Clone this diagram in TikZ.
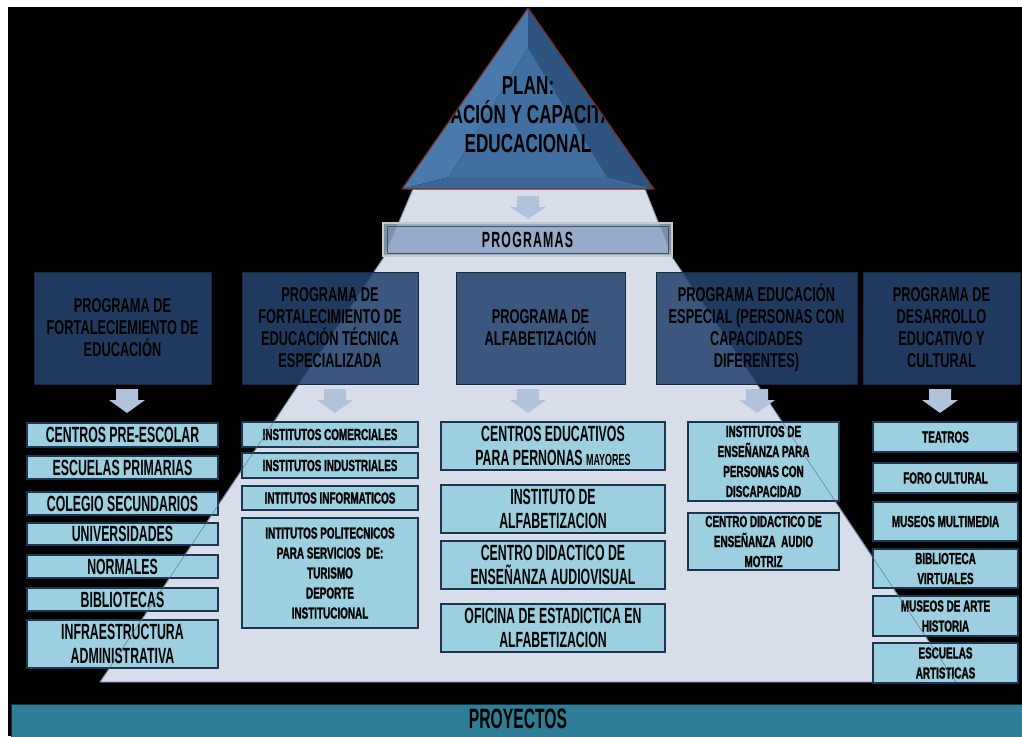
\documentclass[tikz,border=0pt]{standalone}
\usepackage{fontspec}
\newfontfamily\fA{Liberation Sans}[FakeStretch=0.56]
\newfontfamily\fP{Liberation Sans}[FakeStretch=0.64]
\newfontfamily\fT{Liberation Sans}[FakeStretch=0.66]
\newfontfamily\fH{Liberation Sans}[FakeStretch=0.62,FakeBold=1.2]
\definecolor{pyrfill}{HTML}{D8DEE9}
\definecolor{pyrline}{HTML}{8292AD}
\definecolor{pyrline2}{HTML}{5A6E8C}
\definecolor{trifill}{HTML}{4170A0}
\definecolor{trileft}{HTML}{4A7AAB}
\definecolor{triright}{HTML}{2E5580}
\definecolor{tribottom}{HTML}{3B6797}
\definecolor{triline}{HTML}{7A2A2A}
\definecolor{progfill}{HTML}{24436D}
\definecolor{progline}{HTML}{152A45}
\definecolor{subfill}{HTML}{9CCFE0}
\definecolor{subline}{HTML}{1D3452}
\definecolor{arrowc}{HTML}{B2C2DD}
\definecolor{pgfill}{HTML}{8EA5C6}
\definecolor{pgouter}{HTML}{C4C8CF}
\definecolor{pginner}{HTML}{4A505C}
\definecolor{proyfill}{HTML}{2E7F95}
\definecolor{proyline}{HTML}{163048}
\newcommand\blkarrow[3]{%
  \fill[arrowc] (#1-11,#2) -- (#1+11,#2) -- (#1+11,#2+11) -- (#1+18,#2+11) -- (#1,#3) -- (#1-18,#2+11) -- (#1-11,#2+11) -- cycle;}
\begin{document}
\begin{tikzpicture}[x=1pt,y=-1pt,
  title/.style={inner sep=0, align=center, text=black, font=\fT\bfseries\fontsize{26}{29}\selectfont},
  prog/.style={draw=progline, line width=1pt, fill=progfill, fill opacity=0.87, text opacity=1, inner sep=0, align=center, text=black, font=\fP\bfseries\fontsize{20}{22}\selectfont},
  sub/.style={draw=subline, line width=1.3pt, fill=subfill, inner sep=0, align=center, text=black},
  subA/.style={sub, font=\fA\bfseries\fontsize{22}{24}\selectfont},
  subH/.style={sub, font=\fH\bfseries\fontsize{16}{20}\selectfont}
]
\useasboundingbox (0,0) rectangle (1022,736);
\fill[white] (0,0) rectangle (1022,736);
\fill[black] (8,7) rectangle (1022,736);
% pyramid
\coordinate (pt1) at (413,189);
\coordinate (pt2) at (645,189);
\coordinate (pm1) at (384,257);
\coordinate (pm2) at (672,257);
\coordinate (bl) at (100,682);
\coordinate (br) at (956,682);
\fill[pyrfill] (pt1) -- (pm1) -- (bl) -- (br) -- (pm2) -- (pt2) -- cycle;
\draw[pyrline, line width=0.8pt] (pt1) -- (pm1) -- (bl) -- (br) -- (pm2) -- (pt2);
% top triangle
\coordinate (tA) at (528,8);
\coordinate (tB) at (402,189);
\coordinate (tC) at (654,189);
\coordinate (ta) at (528,48);
\coordinate (tb) at (449,177);
\coordinate (tc) at (607,177);
\fill[trileft] (tA) -- (tB) -- (tb) -- (ta) -- cycle;
\fill[triright] (tA) -- (tC) -- (tc) -- (ta) -- cycle;
\fill[tribottom] (tB) -- (tC) -- (tc) -- (tb) -- cycle;
\fill[trifill] (ta) -- (tb) -- (tc) -- cycle;
\begin{scope}
  \clip (tA) -- (tB) -- (tC) -- cycle;
  \node[title] (plan) at (528,115) {PLAN:\\FORMACIÓN Y CAPACITACIÓN\\EDUCACIONAL};
\end{scope}
\draw[triline, line width=1.2pt, line join=round] (tA) -- (tB) -- (tC) -- cycle;
% arrow to programas
\blkarrow{528}{196}{219}
% PROGRAMAS
\node[draw=pgouter, line width=2.5pt, fill=pgfill, fill opacity=0.88, text opacity=1, minimum width=289pt, minimum height=33pt, inner sep=0, text=black, font=\fA\bfseries\fontsize{22}{22}\selectfont] (programas) at (527.5,239.5) {P\kern1.2pt R\kern1.2pt O\kern1.2pt G\kern1.2pt R\kern1.2pt A\kern1.2pt M\kern1.2pt A\kern1.2pt S};
\draw[pginner, line width=0.8pt] (387,226) rectangle (668,253);
% program boxes
\node[prog, minimum width=177pt, minimum height=112pt] (p1) at (122.5,328) {PROGRAMA DE\\FORTALECIEMIENTO DE\\EDUCACIÓN};
\node[prog, minimum width=176pt, minimum height=112pt] (p2) at (330,328) {PROGRAMA DE\\FORTALECIMIENTO DE\\EDUCACIÓN TÉCNICA\\ESPECIALIZADA};
\node[prog, minimum width=169pt, minimum height=112pt] (p3) at (540.5,328) {PROGRAMA DE\\ALFABETIZACIÓN};
\node[prog, minimum width=201pt, minimum height=112pt] (p4) at (756.5,328) {PROGRAMA EDUCACIÓN\\ESPECIAL (PERSONAS CON\\CAPACIDADES\\DIFERENTES)};
\node[prog, minimum width=157pt, minimum height=112pt] (p5) at (941.5,328) {PROGRAMA DE\\DESARROLLO\\EDUCATIVO Y\\CULTURAL};
% arrows
\blkarrow{127}{389}{413}
\blkarrow{335}{389}{413}
\blkarrow{528}{389}{413}
\blkarrow{757}{389}{413}
\blkarrow{940}{389}{413}
% column 1
\node[subA, minimum width=191pt, minimum height=24pt] (c1a) at (122.5,435) {CENTROS PRE-ESCOLAR};
\node[subA, minimum width=191pt, minimum height=23pt] (c1b) at (122.5,467.5) {ESCUELAS PRIMARIAS};
\node[subA, minimum width=191pt, minimum height=23pt] (c1c) at (122.5,503.5) {COLEGIO SECUNDARIOS};
\node[subA, minimum width=191pt, minimum height=22pt] (c1d) at (122.5,534) {UNIVERSIDADES};
\node[subA, minimum width=191pt, minimum height=23pt] (c1e) at (122.5,566.5) {NORMALES};
\node[subA, minimum width=191pt, minimum height=23pt] (c1f) at (122.5,599.5) {BIBLIOTECAS};
\node[subA, minimum width=191pt, minimum height=48pt] (c1g) at (122.5,644) {INFRAESTRUCTURA\\ADMINISTRATIVA};
% column 2
\node[subH, minimum width=176pt, minimum height=25pt] (c2a) at (330,434.5) {INSTITUTOS\ COMERCIALES};
\node[subH, minimum width=176pt, minimum height=25pt] (c2b) at (330,465.5) {INSTITUTOS\ INDUSTRIALES};
\node[subH, minimum width=176pt, minimum height=24pt] (c2c) at (330,498) {INTITUTOS\ INFORMATICOS};
\node[subH, minimum width=176pt, minimum height=110pt] (c2d) at (330,573) {INTITUTOS\ POLITECNICOS\\PARA SERVICIOS\ \ DE:\\TURISMO\\DEPORTE\\INSTITUCIONAL};
% column 3
\node[subA, minimum width=224pt, minimum height=48pt] (c3a) at (553,446) {CENTROS EDUCATIVOS\\PARA PERNONAS {\fontsize{16}{24}\selectfont MAYORES}};
\node[subA, minimum width=224pt, minimum height=48pt] (c3b) at (553,509) {INSTITUTO DE\\ALFABETIZACION};
\node[subA, minimum width=224pt, minimum height=48pt] (c3c) at (553,565) {CENTRO DIDACTICO DE\\ENSEÑANZA AUDIOVISUAL};
\node[subA, minimum width=224pt, minimum height=48pt] (c3d) at (553,628) {OFICINA DE ESTADICTICA EN\\ALFABETIZACION};
% column 4
\node[subH, minimum width=151pt, minimum height=79pt] (c4a) at (763.5,461.5) {INSTITUTOS\ DE\\ENSEÑANZA\ PARA\\PERSONAS\ CON\\DISCAPACIDAD};
\node[subH, minimum width=151pt, minimum height=57pt] (c4b) at (763.5,541.5) {CENTRO\ DIDACTICO\ DE\\ENSEÑANZA\ \ AUDIO\\MOTRIZ};
% column 5
\node[subH, minimum width=145pt, minimum height=30pt] (c5a) at (945.5,437) {TEATROS};
\node[subH, minimum width=145pt, minimum height=30pt] (c5b) at (945.5,478) {FORO CULTURAL};
\node[subH, minimum width=145pt, minimum height=39pt] (c5c) at (945.5,521.5) {MUSEOS MULTIMEDIA};
\node[subH, minimum width=145pt, minimum height=39pt] (c5d) at (945.5,568.5) {BIBLIOTECA\\VIRTUALES};
\node[subH, minimum width=145pt, minimum height=40pt] (c5e) at (945.5,616) {MUSEOS DE ARTE\\HISTORIA};
\node[subH, minimum width=145pt, minimum height=40pt] (c5f) at (945.5,663) {ESCUELAS\\ARTISTICAS};
% pyramid edge seen through the lower boxes
\begin{scope}
  \clip (0,415) rectangle (1022,690);
  \draw[pyrline2, line width=0.7pt, opacity=0.7] (pm1) -- (bl) (pm2) -- (br);
\end{scope}
% PROYECTOS
\node[draw=proyline, line width=1pt, fill=proyfill, minimum width=1014pt, minimum height=33pt, inner sep=0] (proy) at (518,721) {};
\node[inner sep=0, text=black, font=\fA\bfseries\fontsize{28}{28}\selectfont] (proyt) at (518,719) {PROYECTOS};
\end{tikzpicture}
\end{document}
